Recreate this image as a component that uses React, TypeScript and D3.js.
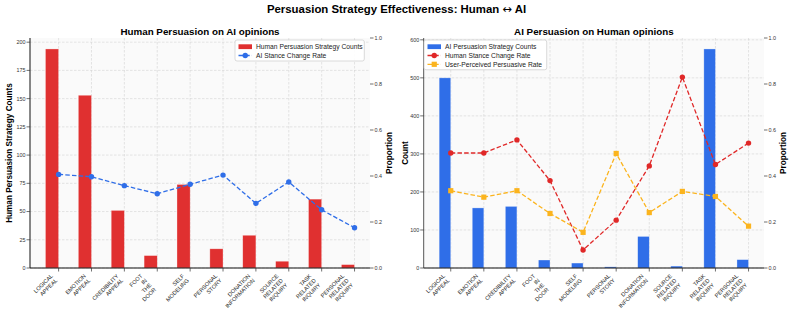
import * as React from "react"
import * as d3 from "d3"

const strategies = [
    "LOGICAL\nAPPEAL", "EMOTION\nAPPEAL", "CREDIBILITY\nAPPEAL", "FOOT\nIN\nTHE\nDOOR", "SELF\nMODELING",
    "PERSONAL\nSTORY", "DONATION\nINFORMATION", "SOURCE\nRELATED\nINQUIRY", "TASK\nRELATED\nINQUIRY", "PERSONAL\nRELATED\nINQUIRY",
]
const humanCounts = [194, 153, 51, 11, 74, 17, 29, 6, 61, 3]
const aiStanceChange = [0.407, 0.397, 0.358, 0.323, 0.364, 0.404, 0.281, 0.374, 0.253, 0.175]
const aiCounts = [500, 158, 162, 21, 13, 3, 83, 5, 576, 22]
const humanStanceChange = [0.5, 0.5, 0.557, 0.38, 0.078, 0.208, 0.444, 0.83, 0.45, 0.543]
const perceivedRate = [0.336, 0.308, 0.336, 0.237, 0.155, 0.498, 0.241, 0.333, 0.311, 0.182]
const humanCountTicks = [0, 25, 50, 75, 100, 125, 150, 175, 200]
const aiCountTicks = [0, 100, 200, 300, 400, 500, 600]
const proportionTicks = [0, 0.2, 0.4, 0.6, 0.8, 1.0]

const FONT = "'Liberation Sans', Arial, Helvetica, sans-serif"
const RED = "#e03030"
const BLUE = "#2f6ee8"
const ORANGE = "#fbb41e"

interface LineSeries {
    name: string
    values: number[]
    color: string
    marker: "circle" | "square"
}

interface PanelProps {
    x0: number
    x1: number
    title: string
    yLabel: string
    yLabelOffset: number
    counts: number[]
    countTicks: number[]
    barName: string
    barColor: string
    barWidth: number
    lines: LineSeries[]
    legendX: number
    legendW: number
    spineColor: string
}

const [y0, y1] = [38, 268]

const Marker = ({ x, y, color, kind }: { x: number, y: number, color: string, kind: string }) =>
    kind === "square"
        ? <rect x={x - 2.6} y={y - 2.6} width={5.2} height={5.2} fill={color} />
        : <circle cx={x} cy={y} r={2.7} fill={color} />

const Panel = ({ x0, x1, title, yLabel, yLabelOffset, counts, countTicks, barName, barColor, barWidth, lines, legendX, legendW, spineColor }: PanelProps) => {
    const idx = counts.map((_, i) => i)
    const lo = -barWidth
    const hi = counts.length - 1
    const pad = 0.05 * (hi - lo)

    const xScale = d3.scaleLinear().domain([lo - pad, hi + pad]).range([x0, x1])
    const yCount = d3.scaleLinear().domain([0, (d3.max(counts) ?? 1) * 1.05]).range([y1, y0])
    const yProp = d3.scaleLinear().domain([0, 1]).range([y1, y0])

    const lineGen = (vals: number[]) =>
        d3.line<number>().x((_, i) => xScale(i)).y(d => yProp(d))(vals) ?? ""

    const L = 6.4
    const fs = 5.6

    const legendRows = [{ name: barName, color: barColor, kind: "bar" }, ...lines.map(l => ({ name: l.name, color: l.color, kind: l.marker }))]
    const legendH = 6.7 + (legendRows.length - 1) * 8.8 + 5.5

    return (
        <g>
            <rect x={x0} y={y0} width={x1 - x0} height={y1 - y0} fill="#fafafa" />
            {/* grid */}
            {countTicks.map(t => (
                <line key={"h" + t} x1={x0} x2={x1} y1={yCount(t)} y2={yCount(t)} stroke="#d4d4d4" strokeWidth={0.6} strokeDasharray="2.5,1.5" />
            ))}
            {idx.map(i => (
                <line key={"v" + i} x1={xScale(i)} x2={xScale(i)} y1={y0} y2={y1} stroke="#d4d4d4" strokeWidth={0.6} strokeDasharray="2.5,1.5" />
            ))}
            {/* bars */}
            {counts.map((c, i) => (
                <rect key={"b" + i} x={xScale(i - barWidth)} y={yCount(c)} width={xScale(i) - xScale(i - barWidth)} height={y1 - yCount(c)}
                    fill={barColor} stroke="#ffffff" strokeOpacity={0.5} strokeWidth={0.6} />
            ))}
            {/* lines */}
            {lines.map(l => (
                <g key={l.name}>
                    <path d={lineGen(l.values)} fill="none" stroke={l.color} strokeWidth={1.3} strokeDasharray="4.5,2.2" />
                    {l.values.map((v, i) => <Marker key={i} x={xScale(i)} y={yProp(v)} color={l.color} kind={l.marker} />)}
                </g>
            ))}
            {/* spines */}
            <line x1={x0} x2={x0} y1={y0} y2={y1} stroke={spineColor} strokeWidth={1} />
            <line x1={x0} x2={x1} y1={y1} y2={y1} stroke="#111" strokeWidth={1.2} />
            {/* left ticks */}
            {countTicks.map(t => (
                <g key={"lt" + t}>
                    <line x1={x0 - 3.5} x2={x0} y1={yCount(t)} y2={yCount(t)} stroke="#333" strokeWidth={0.7} />
                    <text x={x0 - 4.5} y={yCount(t) + 1.9} fontSize={5.4} textAnchor="end" fill="#333" fontFamily={FONT}>{t}</text>
                </g>
            ))}
            {/* right ticks */}
            {proportionTicks.map(t => (
                <g key={"rt" + t}>
                    <line x1={x1} x2={x1 + 3.5} y1={yProp(t)} y2={yProp(t)} stroke="#333" strokeWidth={0.7} />
                    <text x={x1 + 4.5} y={yProp(t) + 1.9} fontSize={5.4} fill="#333" fontFamily={FONT}>{t.toFixed(1)}</text>
                </g>
            ))}
            {/* x ticks */}
            {strategies.map((s, i) => {
                const parts = s.split("\n")
                const n = parts.length
                const tx = xScale(i) - ((n - 1) * L + 1.2) / Math.SQRT2
                const ty = y1 + 5.5 + (0.72 * fs) / Math.SQRT2
                return (
                    <g key={"xt" + i}>
                        <line x1={xScale(i)} x2={xScale(i)} y1={y1} y2={y1 + 3.5} stroke="#333" strokeWidth={0.7} />
                        <text transform={`translate(${tx},${ty}) rotate(-45)`} fontSize={fs} textAnchor="end" fill="#222" fontFamily={FONT}>
                            {parts.map((p, k) => <tspan key={k} x={0} dy={k === 0 ? 0 : L}>{p}</tspan>)}
                        </text>
                    </g>
                )
            })}
            {/* labels */}
            <text x={(x0 + x1) / 2} y={35} fontSize={9.8} fontWeight="bold" textAnchor="middle" fontFamily={FONT}>{title}</text>
            <text transform={`translate(${x0 - yLabelOffset},${(y0 + y1) / 2}) rotate(-90)`} fontSize={8.2} fontWeight="bold" textAnchor="middle" fontFamily={FONT}>{yLabel}</text>
            <text transform={`translate(${x1 + 22},${(y0 + y1) / 2}) rotate(-90)`} fontSize={8.2} fontWeight="bold" textAnchor="middle" fontFamily={FONT}>Proportion</text>
            {/* legend */}
            <g transform={`translate(${legendX},40)`}>
                <rect x={0} y={0} width={legendW} height={legendH} rx={2} fill="#fff" fillOpacity={0.9} stroke="#cccccc" strokeWidth={0.7} />
                {legendRows.map((r, k) => {
                    const cy = 6.7 + k * 8.8
                    return (
                        <g key={r.name}>
                            {r.kind === "bar"
                                ? <rect x={3.5} y={cy - 2.4} width={13.5} height={4.8} fill={r.color} />
                                : <g>
                                    <line x1={3.5} x2={17} y1={cy} y2={cy} stroke={r.color} strokeWidth={1.3} strokeDasharray="4.5,2.2" />
                                    <Marker x={10.25} y={cy} color={r.color} kind={r.kind} />
                                </g>}
                            <text x={21} y={cy + 2.4} fontSize={6.7} fill="#222" fontFamily={FONT}>{r.name}</text>
                        </g>
                    )
                })}
            </g>
        </g>
    )
}

export default function App() {
    return (
        <svg width={793} height={312} style={{ position: "absolute", left: 0, top: 0, background: "#fff" }}>
            <text x={396.5} y={12.8} fontSize={11.4} fontWeight="bold" textAnchor="middle" fontFamily={FONT}>
                Persuasion Strategy Effectiveness: Human <tspan fontFamily="'DejaVu Sans', sans-serif" fontWeight="normal">↔</tspan> AI
            </text>
            <Panel x0={30} x1={370} title="Human Persuasion on AI opinions" yLabel="Human Persuasion Strategy Counts" yLabelOffset={18.5}
                counts={humanCounts} countTicks={humanCountTicks} barName="Human Persuasion Strategy Counts" barColor={RED} barWidth={0.4}
                lines={[{ name: "AI Stance Change Rate", values: aiStanceChange, color: BLUE, marker: "circle" }]}
                legendX={235} legendW={129.3} spineColor="#111" />
            <Panel x0={423.7} x1={764} title="AI Persuasion on Human opinions" yLabel="Count" yLabelOffset={15.7}
                counts={aiCounts} countTicks={aiCountTicks} barName="AI Persuasion Strategy Counts" barColor={BLUE} barWidth={0.35}
                lines={[
                    { name: "Human Stance Change Rate", values: humanStanceChange, color: "#e02828", marker: "circle" },
                    { name: "User-Perceived Persuasive Rate", values: perceivedRate, color: ORANGE, marker: "square" },
                ]}
                legendX={424} legendW={122.7} spineColor="#555" />
        </svg>
    )
}
